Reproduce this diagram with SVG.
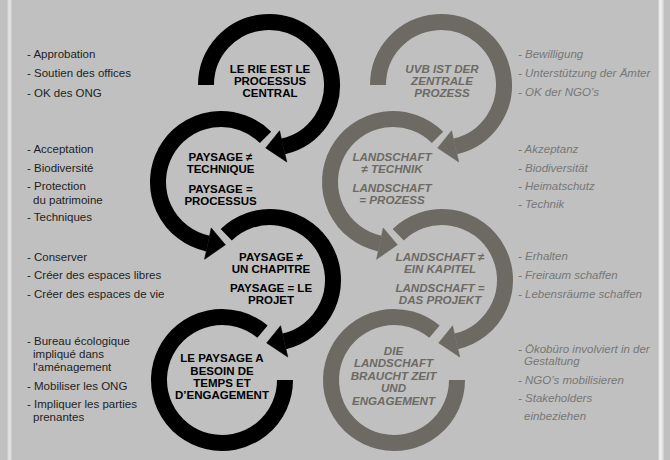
<svg xmlns="http://www.w3.org/2000/svg" width="670" height="460" viewBox="0 0 670 460">
<style>
.bk{fill:none;stroke:#000;stroke-width:16}
.gy{fill:none;stroke:#6d6a63;stroke-width:16}
.hb{fill:#000;stroke:#000;stroke-width:0.6;stroke-linejoin:round}
.hg{fill:#6d6a63;stroke:#6d6a63;stroke-width:0.6;stroke-linejoin:round}
.t1{font-family:"Liberation Sans",Arial,sans-serif;font-weight:bold;font-size:11.5px;text-anchor:middle;fill:#000}
.t2{font-family:"Liberation Sans",Arial,sans-serif;font-weight:bold;font-style:italic;font-size:11.6px;text-anchor:middle;fill:#6d6a63}
.l{font-family:"Liberation Sans",Arial,sans-serif;font-size:11.5px;fill:#1e1e1e}
.r{font-family:"Liberation Sans",Arial,sans-serif;font-style:italic;font-size:11.5px;fill:#777}
</style>
<rect x="0" y="0" width="670" height="460" fill="#c0c0c0"/>
<rect x="7.5" y="0" width="4" height="460" fill="#d8d8d8"/>
<rect x="8.5" y="0" width="2" height="460" fill="#e2e2e2"/>
<rect x="658.5" y="0" width="5" height="460" fill="#e2e2e2"/>
<rect x="659.5" y="0" width="2" height="460" fill="#f0f0f0"/>

<g id="rie-central">
<path class="bk" d="M206,85 A63,63 0 1 1 283.17,146.39"/>
<text class="t1" x="270" y="73">LE RIE EST LE</text>
<text class="t1" x="270" y="85">PROCESSUS</text>
<text class="t1" x="270" y="97">CENTRAL</text>
</g>
<g id="paysage-technique">
<path class="bk" d="M265.55,137.45 A63,63 0 1 0 207.90,243.62"/>
<text class="t1" x="220.5" y="161">PAYSAGE ≠</text>
<text class="t1" x="220.5" y="173">TECHNIQUE</text>
<text class="t1" x="220.5" y="193">PAYSAGE =</text>
<text class="t1" x="220.5" y="205">PROCESSUS</text>
</g>
<g id="paysage-chapitre">
<path class="bk" d="M226.24,234.68 A63,63 0 1 1 284.17,341.39"/>
<text class="t1" x="271" y="261">PAYSAGE ≠</text>
<text class="t1" x="271" y="273">UN CHAPITRE</text>
<text class="t1" x="271" y="292">PAYSAGE = LE</text>
<text class="t1" x="271" y="304">PROJET</text>
</g>
<g id="paysage-temps">
<path class="bk" d="M285,380 A63,63 0 1 1 262.50,331.74"/>
<text class="t1" x="222" y="362">LE PAYSAGE A</text>
<text class="t1" x="222" y="375">BESOIN DE</text>
<text class="t1" x="222" y="387">TEMPS ET</text>
<text class="t1" x="222" y="399">D’ENGAGEMENT</text>
</g>

<g id="uvb-zentral">
<path class="gy" d="M378,85 A63,63 0 1 1 455.17,146.39"/>
<text class="t2" x="442" y="73">UVB IST DER</text>
<text class="t2" x="442" y="85">ZENTRALE</text>
<text class="t2" x="442" y="97">PROZESS</text>
</g>
<g id="landschaft-technik">
<path class="gy" d="M437.55,137.45 A63,63 0 1 0 379.90,243.62"/>
<text class="t2" x="392" y="161">LANDSCHAFT</text>
<text class="t2" x="392" y="173">≠ TECHNIK</text>
<text class="t2" x="392" y="192">LANDSCHAFT</text>
<text class="t2" x="392" y="204">= PROZESS</text>
</g>
<g id="landschaft-kapitel">
<path class="gy" d="M398.24,234.68 A63,63 0 1 1 456.17,341.39"/>
<text class="t2" x="440" y="261">LANDSCHAFT ≠</text>
<text class="t2" x="440" y="273">EIN KAPITEL</text>
<text class="t2" x="440" y="292">LANDSCHAFT =</text>
<text class="t2" x="440" y="304">DAS PROJEKT</text>
</g>
<g id="landschaft-zeit">
<path class="gy" d="M457,380 A63,63 0 1 1 434.50,331.74"/>
<text class="t2" x="393.5" y="355">DIE</text>
<text class="t2" x="393.5" y="367">LANDSCHAFT</text>
<text class="t2" x="393.5" y="380">BRAUCHT ZEIT</text>
<text class="t2" x="393.5" y="392">UND</text>
<text class="t2" x="393.5" y="405">ENGAGEMENT</text>
</g>

<g id="connectors">
<polygon class="hb" points="279.57,130.80 286.77,161.98 265.70,147.91"/>
<polygon class="hb" points="211.23,227.97 204.58,259.27 225.39,244.85"/>
<polygon class="hb" points="280.57,325.80 287.77,356.98 266.70,342.91"/>
<polygon class="hg" points="451.57,130.80 458.77,161.98 437.70,147.91"/>
<polygon class="hg" points="383.23,227.97 376.58,259.27 397.39,244.85"/>
<polygon class="hg" points="452.57,325.80 459.77,356.98 438.70,342.91"/>
</g>

<g id="list-fr">
<text class="l" x="27" y="58">- Approbation</text>
<text class="l" x="27" y="77">- Soutien des offices</text>
<text class="l" x="27" y="96.5">- OK des ONG</text>
<text class="l" x="27" y="153">- Acceptation</text>
<text class="l" x="27" y="172">- Biodiversité</text>
<text class="l" x="27" y="190">- Protection</text>
<text class="l" x="33" y="203.5">du patrimoine</text>
<text class="l" x="27" y="221">- Techniques</text>
<text class="l" x="27" y="260.5">- Conserver</text>
<text class="l" x="27" y="279">- Créer des espaces libres</text>
<text class="l" x="27" y="298">- Créer des espaces de vie</text>
<text class="l" x="27" y="345">- Bureau écologique</text>
<text class="l" x="33" y="358">impliqué dans</text>
<text class="l" x="33" y="371">l'aménagement</text>
<text class="l" x="27" y="390">- Mobiliser les ONG</text>
<text class="l" x="27" y="408">- Impliquer les parties</text>
<text class="l" x="33" y="421">prenantes</text>
</g>
<g id="list-de">
<text class="r" x="518" y="58">- Bewilligung</text>
<text class="r" x="518" y="77">- Unterstützung der Ämter</text>
<text class="r" x="518" y="96">- OK der NGO’s</text>
<text class="r" x="518" y="153">- Akzeptanz</text>
<text class="r" x="518" y="172">- Biodiversität</text>
<text class="r" x="518" y="190">- Heimatschutz</text>
<text class="r" x="518" y="208">- Technik</text>
<text class="r" x="518" y="260">- Erhalten</text>
<text class="r" x="518" y="279">- Freiraum schaffen</text>
<text class="r" x="518" y="298">- Lebensräume schaffen</text>
<text class="r" x="518" y="353">- Ökobüro involviert in der</text>
<text class="r" x="524" y="365">Gestaltung</text>
<text class="r" x="518" y="384">- NGO’s mobilisieren</text>
<text class="r" x="518" y="402">- Stakeholders</text>
<text class="r" x="524" y="420">einbeziehen</text>
</g>
</svg>
